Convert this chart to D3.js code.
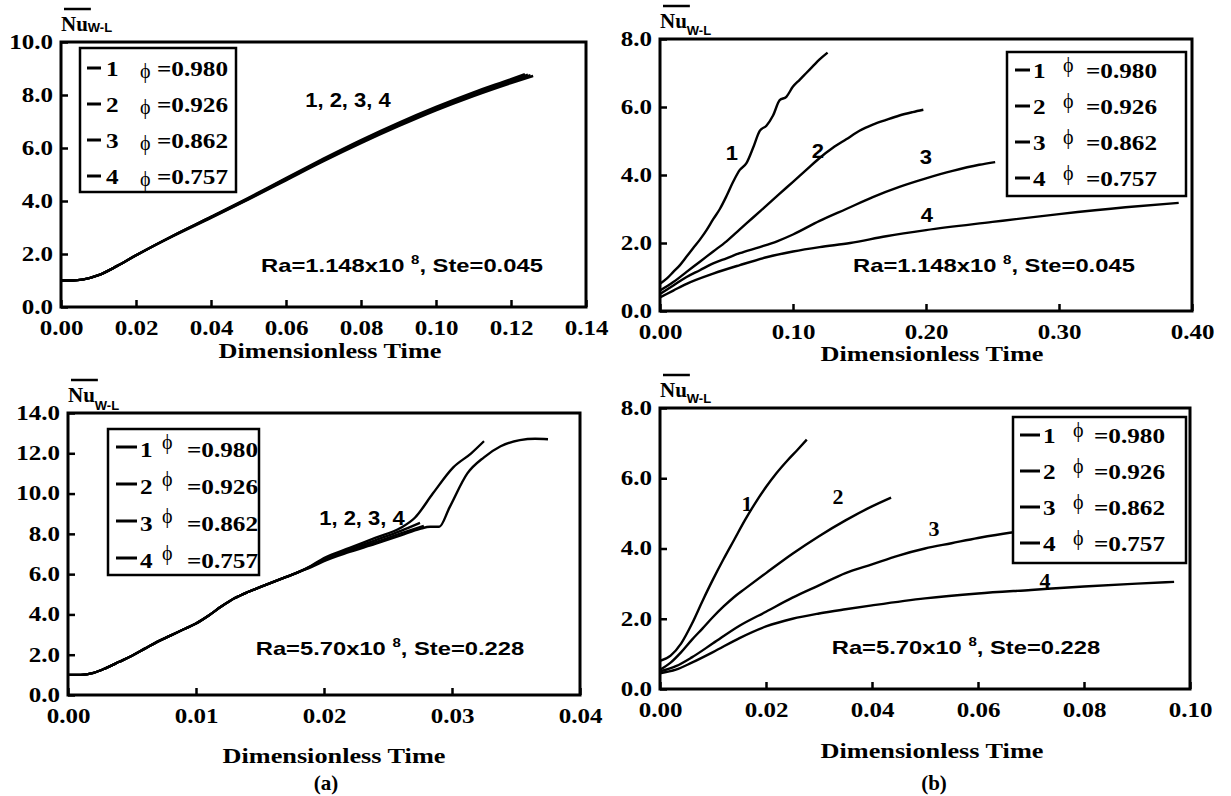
<!DOCTYPE html>
<html>
<head>
<meta charset="utf-8">
<script src="https://cdn.jsdelivr.net/npm/d3@7"></script>
<style>
  body { margin: 0; background: #fff; }
  svg { display: block; }
</style>
</head>
<body>
<svg id="fig" width="1231" height="796"></svg>
<script>
// ---- data ----
const curveIds = ["1", "2", "3", "4"];
const phiValues = ["0.980", "0.926", "0.862", "0.757"];

// (a) top : Ra=1.148x10^8, Ste=0.045
const aTopXTicks = [0, 0.02, 0.04, 0.06, 0.08, 0.10, 0.12, 0.14];
const aTopYTicks = [0, 2, 4, 6, 8, 10];
const aTop1 = [[0,1.0],[0.003,1.0],[0.006,1.04],[0.01,1.2],[0.015,1.55],[0.02,1.95],[0.03,2.7],[0.04,3.4],[0.05,4.12],[0.06,4.87],[0.07,5.6],[0.08,6.3],[0.09,6.95],[0.10,7.55],[0.11,8.1],[0.12,8.6],[0.1237,8.79]];
const aTop2 = [[0,1.0],[0.003,1.0],[0.006,1.04],[0.01,1.2],[0.015,1.55],[0.02,1.95],[0.03,2.7],[0.04,3.4],[0.05,4.1],[0.06,4.84],[0.07,5.56],[0.08,6.26],[0.09,6.9],[0.10,7.5],[0.11,8.05],[0.12,8.54],[0.1245,8.77]];
const aTop3 = [[0,1.0],[0.003,1.0],[0.006,1.04],[0.01,1.2],[0.015,1.55],[0.02,1.95],[0.03,2.7],[0.04,3.38],[0.05,4.08],[0.06,4.81],[0.07,5.53],[0.08,6.22],[0.09,6.86],[0.10,7.46],[0.11,8.0],[0.12,8.5],[0.1252,8.75]];
const aTop4 = [[0,1.0],[0.003,1.0],[0.006,1.04],[0.01,1.2],[0.015,1.55],[0.02,1.95],[0.03,2.68],[0.04,3.36],[0.05,4.06],[0.06,4.78],[0.07,5.5],[0.08,6.18],[0.09,6.82],[0.10,7.42],[0.11,7.96],[0.12,8.45],[0.1259,8.72]];

// (b) top : Ra=1.148x10^8, Ste=0.045
const bTopXTicks = [0, 0.1, 0.2, 0.3, 0.4];
const bTopYTicks = [0, 2, 4, 6, 8];
const bTop1 = [[0,0.8],[0.005,0.95],[0.01,1.15],[0.015,1.35],[0.02,1.6],[0.025,1.85],[0.03,2.1],[0.035,2.38],[0.04,2.7],[0.045,3.0],[0.05,3.38],[0.055,3.8],[0.06,4.15],[0.065,4.35],[0.07,4.8],[0.075,5.3],[0.08,5.45],[0.085,5.75],[0.09,6.2],[0.095,6.3],[0.10,6.6],[0.105,6.8],[0.11,7.0],[0.115,7.2],[0.12,7.4],[0.126,7.6]];
const bTop2 = [[0,0.6],[0.01,0.85],[0.02,1.15],[0.03,1.45],[0.04,1.75],[0.05,2.05],[0.06,2.4],[0.07,2.75],[0.08,3.1],[0.09,3.45],[0.10,3.8],[0.11,4.15],[0.12,4.5],[0.13,4.8],[0.14,5.05],[0.15,5.3],[0.16,5.48],[0.17,5.62],[0.18,5.75],[0.19,5.85],[0.198,5.92]];
const bTop3 = [[0,0.5],[0.01,0.75],[0.02,1.0],[0.03,1.2],[0.04,1.4],[0.05,1.55],[0.06,1.7],[0.075,1.88],[0.088,2.05],[0.10,2.25],[0.12,2.65],[0.14,3.0],[0.16,3.35],[0.18,3.65],[0.20,3.9],[0.22,4.12],[0.24,4.3],[0.252,4.38]];
const bTop4 = [[0,0.4],[0.01,0.6],[0.02,0.8],[0.04,1.1],[0.06,1.35],[0.08,1.58],[0.10,1.75],[0.12,1.88],[0.143,2.0],[0.17,2.2],[0.20,2.38],[0.25,2.62],[0.30,2.85],[0.35,3.05],[0.39,3.18]];

// (a) bottom : Ra=5.70x10^8, Ste=0.228
const aBotXTicks = [0, 0.01, 0.02, 0.03, 0.04];
const aBotYTicks = [0, 2, 4, 6, 8, 10, 12, 14];
const aBot1 = [[0,1.0],[0.001,1.0],[0.002,1.1],[0.003,1.35],[0.004,1.65],[0.005,1.95],[0.006,2.3],[0.007,2.65],[0.008,2.95],[0.009,3.25],[0.010,3.55],[0.011,3.95],[0.012,4.4],[0.013,4.8],[0.014,5.1],[0.015,5.35],[0.016,5.6],[0.017,5.85],[0.018,6.1],[0.019,6.42],[0.020,6.8],[0.022,7.3],[0.024,7.8],[0.026,8.3],[0.0271,8.8],[0.0285,10.0],[0.0301,11.3],[0.0315,12.0],[0.0325,12.6]];
const aBot2 = [[0,1.0],[0.001,1.0],[0.002,1.1],[0.003,1.35],[0.004,1.65],[0.005,1.95],[0.006,2.3],[0.007,2.65],[0.008,2.95],[0.009,3.25],[0.010,3.55],[0.011,3.95],[0.012,4.4],[0.013,4.8],[0.014,5.1],[0.015,5.35],[0.016,5.6],[0.017,5.85],[0.018,6.1],[0.019,6.4],[0.020,6.75],[0.022,7.22],[0.024,7.68],[0.026,8.15],[0.0275,8.55]];
const aBot3 = [[0,1.0],[0.001,1.0],[0.002,1.1],[0.003,1.35],[0.004,1.65],[0.005,1.95],[0.006,2.3],[0.007,2.65],[0.008,2.95],[0.009,3.25],[0.010,3.55],[0.011,3.95],[0.012,4.4],[0.013,4.8],[0.014,5.1],[0.015,5.35],[0.016,5.6],[0.017,5.85],[0.018,6.1],[0.019,6.38],[0.020,6.7],[0.022,7.15],[0.024,7.58],[0.026,8.02],[0.0278,8.4]];
const aBot4 = [[0,1.0],[0.001,1.0],[0.002,1.1],[0.003,1.35],[0.004,1.65],[0.005,1.95],[0.006,2.3],[0.007,2.65],[0.008,2.95],[0.009,3.25],[0.010,3.55],[0.011,3.95],[0.012,4.4],[0.013,4.8],[0.014,5.1],[0.015,5.35],[0.016,5.6],[0.017,5.85],[0.018,6.1],[0.019,6.35],[0.020,6.65],[0.022,7.1],[0.024,7.5],[0.026,7.92],[0.0275,8.25],[0.0283,8.35],[0.029,8.35],[0.0298,9.3],[0.0312,11.0],[0.0325,11.8],[0.0338,12.35],[0.0353,12.65],[0.0365,12.72],[0.0375,12.7]];

// (b) bottom : Ra=5.70x10^8, Ste=0.228
const bBotXTicks = [0, 0.02, 0.04, 0.06, 0.08, 0.10];
const bBotYTicks = [0, 2, 4, 6, 8];
const bBot1 = [[0,0.8],[0.002,0.95],[0.004,1.3],[0.006,1.85],[0.008,2.5],[0.010,3.12],[0.012,3.7],[0.014,4.25],[0.016,4.8],[0.018,5.3],[0.020,5.75],[0.022,6.15],[0.024,6.5],[0.026,6.82],[0.0277,7.1]];
const bBot2 = [[0,0.55],[0.002,0.75],[0.004,1.05],[0.006,1.4],[0.008,1.72],[0.010,2.05],[0.012,2.35],[0.014,2.62],[0.016,2.85],[0.020,3.3],[0.025,3.85],[0.030,4.35],[0.035,4.8],[0.040,5.2],[0.0436,5.45]];
const bBot3 = [[0,0.5],[0.003,0.65],[0.006,0.9],[0.010,1.3],[0.015,1.8],[0.020,2.2],[0.025,2.6],[0.030,2.95],[0.035,3.3],[0.040,3.55],[0.045,3.8],[0.050,4.0],[0.055,4.15],[0.060,4.3],[0.066,4.45],[0.070,4.52]];
const bBot4 = [[0,0.45],[0.003,0.55],[0.006,0.75],[0.010,1.05],[0.015,1.45],[0.020,1.78],[0.025,2.0],[0.030,2.15],[0.035,2.27],[0.040,2.38],[0.050,2.58],[0.060,2.72],[0.070,2.82],[0.080,2.92],[0.090,3.0],[0.097,3.05]];

// ---- drawing ----
const serif = "'Liberation Serif', 'Times New Roman', serif";
const sans = "'Liberation Sans', Arial, sans-serif";
const svg = d3.select("#fig");

// the scanned figure is horizontally stretched, so text is widened to match
function widen(sel, k) {
  sel.each(function () {
    const w = this.getComputedTextLength();
    d3.select(this).attr("textLength", w * k).attr("lengthAdjust", "spacingAndGlyphs");
  });
  return sel;
}

const panels = [
  { box: [61, 586, 307, 42], xDom: [0, 0.14], yDom: [0, 10], xTicks: aTopXTicks, yTicks: aTopYTicks,
    curves: [aTop1, aTop2, aTop3, aTop4],
    nu: { x: 61, y: 31, subDy: 1 },
    legend: { x: 80, y: 48, w: 156, h: 144, row0: 68, step: 36, l0: 87, l1: 101, num: 106, phi: 140, phiDy: 10, eq: 157, eqDy: 8 },
    ra: { text: "Ra=1.148x10", sup: "8", rest: ", Ste=0.045", x: 402, y: 272 },
    title: { x: 330, y: 358 },
    labels: [{ t: "1, 2, 3, 4", x: 348, y: 107, font: sans }] },
  { box: [660, 1192, 311, 39], xDom: [0, 0.40], yDom: [0, 8], xTicks: bTopXTicks, yTicks: bTopYTicks,
    curves: [bTop1, bTop2, bTop3, bTop4],
    nu: { x: 660, y: 28, subDy: 7 },
    legend: { x: 1007, y: 52, w: 179, h: 144, row0: 70, step: 36, l0: 1015, l1: 1030, num: 1033, phi: 1063, phiDy: 2, eq: 1086, eqDy: 8 },
    ra: { text: "Ra=1.148x10", sup: "8", rest: ", Ste=0.045", x: 994, y: 272 },
    title: { x: 932, y: 361 },
    labels: [{ t: "1", x: 732, y: 160, font: sans }, { t: "2", x: 818, y: 158, font: sans },
             { t: "3", x: 926, y: 164, font: sans }, { t: "4", x: 927, y: 222, font: sans }] },
  { box: [68, 580, 695, 413], xDom: [0, 0.04], yDom: [0, 14], xTicks: aBotXTicks, yTicks: aBotYTicks,
    curves: [aBot1, aBot2, aBot3, aBot4],
    nu: { x: 68, y: 402, subDy: 8 },
    legend: { x: 108, y: 429, w: 151, h: 146, row0: 447, step: 37, l0: 116, l1: 137, num: 140, phi: 162, phiDy: 2, eq: 187, eqDy: 10 },
    ra: { text: "Ra=5.70x10", sup: "8", rest: ", Ste=0.228", x: 390, y: 655 },
    title: { x: 334, y: 763 },
    labels: [{ t: "1, 2, 3, 4", x: 362, y: 525, font: sans }] },
  { box: [660, 1190, 689, 408], xDom: [0, 0.10], yDom: [0, 8], xTicks: bBotXTicks, yTicks: bBotYTicks,
    curves: [bBot1, bBot2, bBot3, bBot4],
    nu: { x: 660, y: 397, subDy: 6 },
    legend: { x: 1013, y: 417, w: 173, h: 146, row0: 435, step: 36, l0: 1020, l1: 1040, num: 1043, phi: 1073, phiDy: 2, eq: 1094, eqDy: 8 },
    ra: { text: "Ra=5.70x10", sup: "8", rest: ", Ste=0.228", x: 966, y: 654 },
    title: { x: 932, y: 758 },
    labels: [{ t: "1", x: 747, y: 511, font: serif }, { t: "2", x: 838, y: 504, font: serif },
             { t: "3", x: 934, y: 536, font: serif }, { t: "4", x: 1045, y: 588, font: serif }] }
];

panels.forEach(p => {
  const [xl, xr, yb, yt] = p.box;
  const x = d3.scaleLinear().domain(p.xDom).range([xl, xr]);
  const y = d3.scaleLinear().domain(p.yDom).range([yb, yt]);
  const g = svg.append("g");

  // curves
  const line = d3.line().x(d => x(d[0])).y(d => y(d[1])).curve(d3.curveMonotoneX);
  g.append("g").selectAll("path")
    .data(p.curves)
    .join("path")
    .attr("d", line)
    .attr("fill", "none")
    .attr("stroke", "#000")
    .attr("stroke-width", 2.4)
    .attr("stroke-linejoin", "round");

  // axes with inward ticks
  const xAxis = g.append("g").attr("transform", `translate(0,${yb})`)
    .call(d3.axisBottom(x).tickValues(p.xTicks).tickFormat(d3.format(".2f")).tickSize(-7).tickPadding(22));
  const yAxis = g.append("g").attr("transform", `translate(${xl},0)`)
    .call(d3.axisLeft(y).tickValues(p.yTicks).tickFormat(d3.format(".1f")).tickSize(-7).tickPadding(8));
  [xAxis, yAxis].forEach(a => {
    a.select(".domain").remove();
    a.selectAll(".tick line").attr("stroke", "#000").attr("stroke-width", 2.5);
    a.selectAll(".tick text")
      .attr("fill", "#000")
      .style("font-family", serif).style("font-weight", "bold").style("font-size", "20px");
  });
  xAxis.selectAll(".tick text").attr("dy", "0.3em");
  widen(xAxis.selectAll(".tick text"), 1.25);
  widen(yAxis.selectAll(".tick text"), 1.25);

  // frame
  g.append("rect")
    .attr("x", xl).attr("y", yt).attr("width", xr - xl).attr("height", yb - yt)
    .attr("fill", "none").attr("stroke", "#000").attr("stroke-width", 3);

  // legend
  const L = p.legend;
  g.append("rect")
    .attr("x", L.x).attr("y", L.y).attr("width", L.w).attr("height", L.h)
    .attr("fill", "#fff").attr("stroke", "#000").attr("stroke-width", 2.5);
  const rows = g.append("g").selectAll("g")
    .data(curveIds.map((c, i) => ({ c, phi: phiValues[i], yy: L.row0 + i * L.step })))
    .join("g");
  rows.append("line")
    .attr("x1", L.l0).attr("x2", L.l1).attr("y1", d => d.yy).attr("y2", d => d.yy)
    .attr("stroke", "#000").attr("stroke-width", 3);
  widen(rows.append("text")
    .attr("x", L.num).attr("y", d => d.yy + L.eqDy)
    .style("font-family", serif).style("font-weight", "bold").style("font-size", "21px")
    .text(d => d.c), 1.2);
  rows.append("text")
    .attr("x", L.phi).attr("y", d => d.yy + L.phiDy)
    .style("font-family", serif).style("font-size", "20px")
    .text("\u03D5");
  widen(rows.append("text")
    .attr("x", L.eq).attr("y", d => d.yy + L.eqDy)
    .style("font-family", serif).style("font-weight", "bold").style("font-size", "21px")
    .text(d => "=" + d.phi), 1.2);

  // Ra / Ste annotation
  const ra = g.append("text")
    .attr("x", p.ra.x).attr("y", p.ra.y).attr("text-anchor", "middle")
    .style("font-family", sans).style("font-weight", "bold").style("font-size", "19px");
  ra.append("tspan").text(p.ra.text + " ");
  ra.append("tspan").attr("dy", -8).style("font-size", "12px").text(p.ra.sup);
  ra.append("tspan").attr("dy", 8).text(p.ra.rest);
  widen(ra, 1.25);

  // curve labels
  p.labels.forEach(lb => {
    widen(g.append("text")
      .attr("x", lb.x).attr("y", lb.y).attr("text-anchor", "middle")
      .style("font-family", lb.font).style("font-weight", "bold").style("font-size", "20px")
      .text(lb.t), 1.1);
  });

  // y-axis label: Nu with overbar, subscript W-L
  const nu = g.append("text").attr("x", p.nu.x).attr("y", p.nu.y)
    .style("font-family", serif).style("font-weight", "bold").style("font-size", "21px")
    .text("Nu");
  const nuW = nu.node().getComputedTextLength();
  g.append("line")
    .attr("x1", p.nu.x + 3).attr("x2", p.nu.x + nuW + 3)
    .attr("y1", p.nu.y - 22).attr("y2", p.nu.y - 22)
    .attr("stroke", "#000").attr("stroke-width", 2.5);
  g.append("text").attr("x", p.nu.x + nuW).attr("y", p.nu.y + p.nu.subDy)
    .style("font-family", sans).style("font-weight", "bold").style("font-size", "13px")
    .text("W-L");

  // x-axis title
  widen(g.append("text")
    .attr("x", p.title.x).attr("y", p.title.y).attr("text-anchor", "middle")
    .style("font-family", serif).style("font-weight", "bold").style("font-size", "21px")
    .text("Dimensionless Time"), 1.25);
});

// sub-figure captions
[["(a)", 326], ["(b)", 934]].forEach(([t, cx]) => {
  svg.append("text").attr("x", cx).attr("y", 790).attr("text-anchor", "middle")
    .style("font-family", serif).style("font-weight", "bold").style("font-size", "21px")
    .text(t);
});
</script>
</body>
</html>
